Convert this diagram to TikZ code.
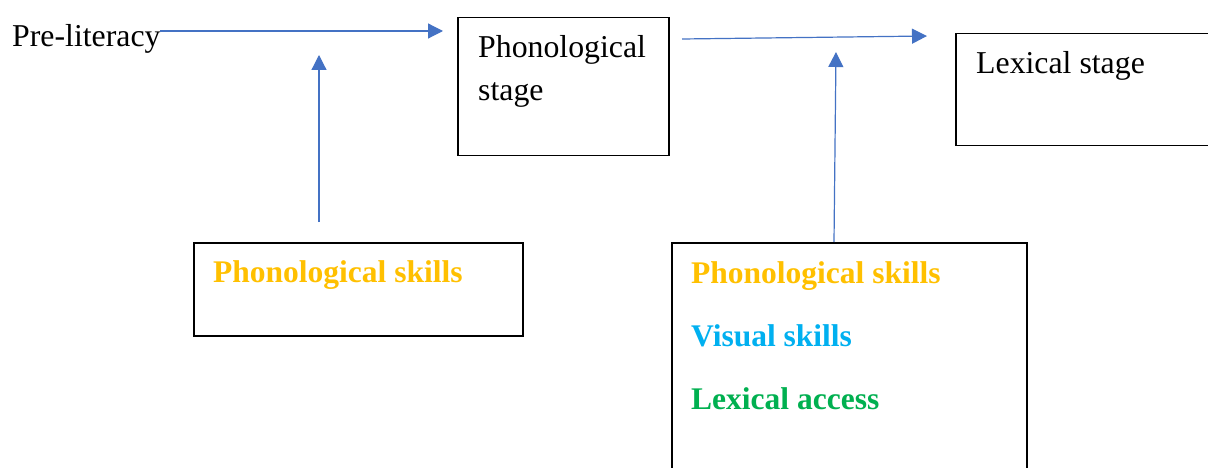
\documentclass[tikz,border=0pt]{standalone}
\usepackage{fontspec}
\setmainfont{Liberation Serif}
\usetikzlibrary{arrows.meta}
\definecolor{arrowblue}{HTML}{4472C4}
\definecolor{skillorange}{HTML}{FFC000}
\definecolor{skillcyan}{HTML}{00B0F0}
\definecolor{skillgreen}{HTML}{00B050}
\tikzset{
  boxnode/.style={draw=black, line width=1.5pt, rectangle, inner sep=0pt, anchor=north west},
  lbl/.style={anchor=base west, inner sep=0pt, font=\fontsize{31.8}{36}\selectfont},
  blbl/.style={lbl, font=\fontsize{31.5}{36}\selectfont\bfseries},
  conn/.style={draw=arrowblue, line width=1.2pt, -{Triangle[length=15pt,width=15pt]}}
}
\begin{document}
\begin{tikzpicture}[x=1pt,y=-1pt]
\clip (0,0) rectangle (1208,468);
\useasboundingbox (0,0) rectangle (1208,468);
\fill[white] (0,0) rectangle (1208,468);
% boxes
\node[boxnode, minimum width=211pt, minimum height=138pt] (phonbox) at (457,17) {};
\node[boxnode, minimum width=280pt, minimum height=112pt] (lexbox) at (955,33) {};
\node[boxnode, minimum width=329pt, minimum height=93pt] (skillsA) at (193,242) {};
\node[boxnode, minimum width=355pt, minimum height=260pt] (skillsB) at (671,242) {};
% texts
\node[lbl] (pre) at (12,47) {Pre-literacy};
\node[lbl] (phon1) at (478,58) {Phonological};
\node[lbl] (phon2) at (478,101) {stage};
\node[lbl] (lex) at (976,74) {Lexical stage};
\node[blbl, text=skillorange] (sA) at (213,282) {Phonological skills};
\node[blbl, text=skillorange] (sB1) at (691,283) {Phonological skills};
\node[blbl, text=skillcyan] (sB2) at (691,346) {Visual skills};
\node[blbl, text=skillgreen] (sB3) at (691,409) {Lexical access};
% connector endpoints
\coordinate (a1s) at (160,31);
\coordinate (a1e) at (443,31);
\coordinate (a2s) at (319,222);
\coordinate (a2e) at (319,55);
\coordinate (a3s) at (682,39);
\coordinate (a3e) at (927,36);
\coordinate (a4s) at (834,242);
\coordinate (a4e) at (836,52);
% connectors
\draw[conn] (a1s) -- (a1e);
\draw[conn] (a2s) -- (a2e);
\draw[conn] (a3s) -- (a3e);
\draw[conn] (a4s) -- (a4e);
\end{tikzpicture}
\end{document}
